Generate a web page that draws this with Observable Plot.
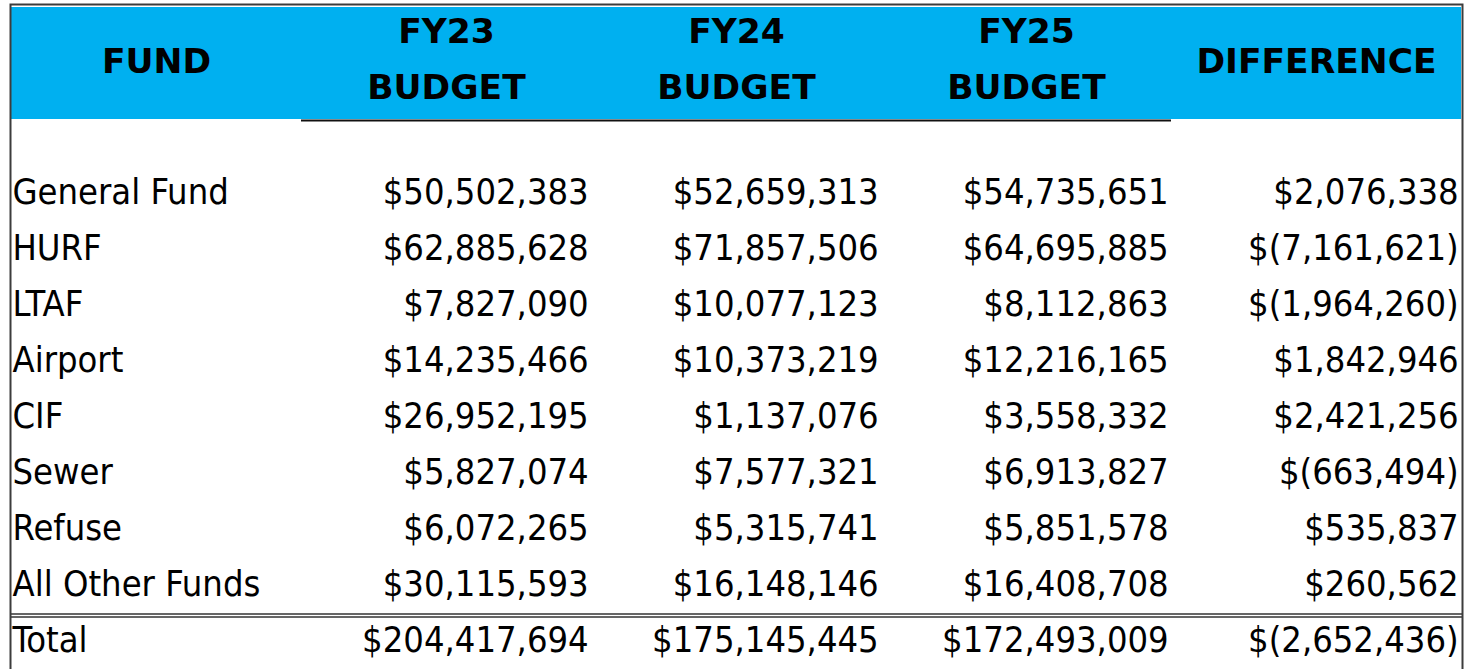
<!DOCTYPE html>
<html><head><meta charset="utf-8">
<script src="https://cdn.jsdelivr.net/npm/d3@7"></script>
<script src="https://cdn.jsdelivr.net/npm/@observablehq/plot@0.6"></script>
<style>html,body{margin:0;padding:0;background:#fff;overflow:hidden;}</style>
</head><body><div id="chart"></div>
<script>
// ---- data ----
const funds = ["General Fund","HURF","LTAF","Airport","CIF","Sewer","Refuse","All Other Funds"];
const fy23 = [50502383,62885628,7827090,14235466,26952195,5827074,6072265,30115593];
const fy24 = [52659313,71857506,10077123,10373219,1137076,7577321,5315741,16148146];
const fy25 = [54735651,64695885,8112863,12216165,3558332,6913827,5851578,16408708];
const diff = [2076338,-7161621,-1964260,1842946,2421256,-663494,535837,260562];
const totalLabel = "Total";
const totals = [204417694,175145445,172493009,-2652436];
const columns = ["FUND","FY23","FY24","FY25","DIFFERENCE"];
const singleHeaders = ["FUND","DIFFERENCE"];
const yearHeaders = ["FY23","FY24","FY25"];
const budgetWord = "BUDGET";

// ---- layout ----
const W = 1470, H = 669;
const xRange = [10, 1462];
const bw = (xRange[1] - xRange[0]) / columns.length;
const rowKeys = ["h1","h2","gap", ...funds, totalLabel];
const rowH = 56.33;
const yRange = [5, 5 + rowKeys.length * rowH];
const numCols = columns.slice(1);

const fmt = v => v < 0 ? "$(" + d3.format(",")(-v) + ")" : "$" + d3.format(",")(v);

const cells = [];
funds.forEach((f, i) => {
  [fy23[i], fy24[i], fy25[i], diff[i]].forEach((v, j) => cells.push({row: f, col: numCols[j], value: v}));
});
totals.forEach((v, j) => cells.push({row: totalLabel, col: numCols[j], value: v}));
const headerCells = columns.flatMap(c => ["h1","h2"].map(r => ({col: c, row: r})));

const bodyFont = "'DejaVu Sans Condensed', 'DejaVu Sans', sans-serif";
const headFont = "'DejaVu Sans', sans-serif";

const chart = Plot.plot({
  width: W, height: H,
  marginLeft: 10, marginRight: 8, marginTop: 4, marginBottom: -10,
  x: {type: "band", domain: columns, range: xRange, padding: 0, axis: null},
  y: {type: "band", domain: rowKeys, range: yRange, padding: 0, axis: null},
  style: {background: "white", fontFamily: bodyFont, color: "black"},
  marks: [
    Plot.cell(headerCells, {x: "col", y: "row", fill: "#00B0F0"}),
    Plot.ruleY(["h2"], {y: d => d, x1: () => "FY23", x2: () => "FY25", stroke: "#111", strokeWidth: 2, dy: 29}),
    Plot.ruleY([totalLabel], {y: d => d, stroke: "#333", strokeWidth: 1.5, dy: -37.6}),
    Plot.ruleY([totalLabel], {y: d => d, stroke: "#333", strokeWidth: 1.5, dy: -34.6}),
    Plot.text(singleHeaders, {x: d => d, y: () => "h1", text: d => d, dy: 37, lineAnchor: "bottom",
      fontWeight: "bold", fontSize: 34.5, fontFamily: headFont, fill: "black"}),
    Plot.text(yearHeaders, {x: d => d, y: () => "h1", text: d => d, dy: 7, lineAnchor: "bottom",
      fontWeight: "bold", fontSize: 34.5, fontFamily: headFont, fill: "black"}),
    Plot.text(yearHeaders, {x: d => d, y: () => "h2", text: () => budgetWord, dy: 7.5, lineAnchor: "bottom",
      fontWeight: "bold", fontSize: 34.5, fontFamily: headFont, fill: "black"}),
    Plot.text([...funds, totalLabel], {y: d => d, text: d => d, frameAnchor: "left", textAnchor: "start",
      dx: 2, dy: 0, lineAnchor: "bottom", fontSize: 36, fill: "black"}),
    Plot.text(cells, {x: "col", y: "row", text: d => fmt(d.value), textAnchor: "end",
      dx: bw / 2 - 3, dy: 0, lineAnchor: "bottom", fontSize: 36, fill: "black"}),
    Plot.frame({stroke: "#3c3c3c", strokeWidth: 2})
  ]
});
document.getElementById("chart").appendChild(chart);
</script>
</body></html>
